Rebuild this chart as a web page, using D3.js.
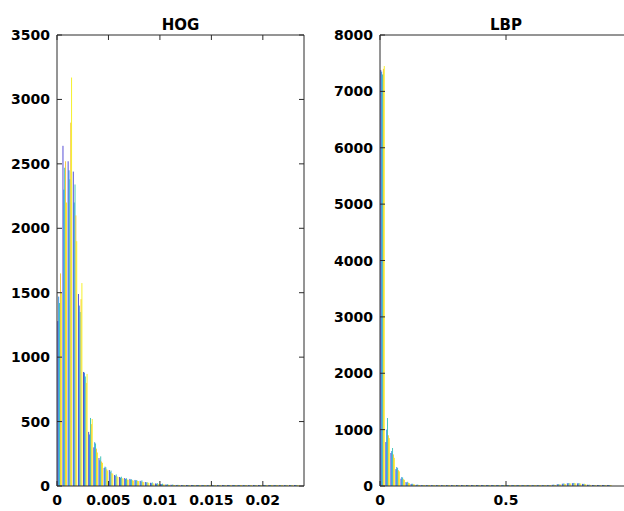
<!DOCTYPE html>
<html><head><meta charset="utf-8">
<script src="https://cdn.jsdelivr.net/npm/d3@7"></script>
<style>body{margin:0;background:#fff}svg{display:block}</style>
</head><body>
<svg id="c" width="624" height="511"></svg>
<script>
// ---------- DATA ----------
const seriesNames = ["s1","s2","s3","s4","s5"];
const seriesColors = ["#4038d0","#1f86e2","#2bbdb2","#f5c22a","#f3ef10"];

// HOG histogram, bin width 0.0005
const hogBinWidth = 0.0005;
const hogS1 = [1280,2640,2520,2440,1490,885,420,300,217,140,124,85,70,62,55,47,40,31,25,20,15,12,10,8,7,6,5,5,4,4,3,3,3,2,2,2,2,2,1,1,1,1,1,1,1,1,1];
const hogS2 = [1470,2300,2450,2200,1400,880,400,340,200,150,110,80,65,55,50,42,35,28,22,18,14,10,8,7,6,5,5,4,4,3,3,3,2,2,2,2,1,1,1,1,1,1,1,1,1,1,1];
const hogS3 = [1420,2470,2380,2340,1350,850,528,330,230,145,120,90,72,60,52,46,44,30,28,22,18,14,12,9,8,7,6,5,5,4,4,3,3,3,2,2,2,2,2,1,1,1,1,1,1,1,1];
const hogS4 = [1650,2520,2820,2100,1450,800,480,290,190,130,100,75,60,50,45,40,33,26,20,16,12,10,8,6,5,5,4,4,3,3,3,2,2,2,2,1,1,1,1,1,1,1,1,1,1,1,1];
const hogS5 = [1500,2200,3170,1900,1575,870,520,260,180,120,95,70,58,48,42,38,30,25,18,15,12,9,7,6,5,4,4,3,3,3,2,2,2,2,1,1,1,1,1,1,1,1,1,1,1,1,1];
const hogXTicks = [0,0.005,0.01,0.015,0.02];
const hogXLabels = ["0","0.005","0.01","0.015","0.02"];
const hogYTicks = [0,500,1000,1500,2000,2500,3000,3500];

// LBP histogram, bin width 0.02
const lbpBinWidth = 0.02;
const lbpS1 = [7380,780,585,300,130,70,35,20,12,8,6,5,5,4,4,4,3,3,3,3,3,3,3,3,3,3,3,3,4,4,5,6,8,12,20,30,40,48,50,46,38,22,10,4,3,2];
const lbpS2 = [7350,1000,620,337,160,60,40,22,12,8,6,5,5,4,4,4,3,3,3,3,3,3,3,3,3,3,3,3,4,4,5,6,9,14,22,32,42,50,52,48,36,20,9,4,3,2];
const lbpS3 = [7300,1206,674,320,150,75,38,25,14,9,6,5,5,4,4,4,3,3,3,3,3,3,3,3,3,3,3,3,4,4,5,7,10,15,24,35,45,52,55,50,40,24,11,5,3,2];
const lbpS4 = [7400,900,560,280,120,55,30,18,10,7,5,5,4,4,4,3,3,3,3,3,3,3,3,3,3,3,3,3,4,4,5,6,8,11,18,28,38,46,48,44,35,20,9,4,3,2];
const lbpS5 = [7450,850,500,260,110,50,28,16,10,7,5,5,4,4,4,3,3,3,3,3,3,3,3,3,3,3,3,3,4,4,5,6,8,10,17,27,36,44,46,42,33,18,8,4,3,2];
const lbpXTicks = [0,0.5];
const lbpXLabels = ["0","0.5"];
const lbpYTicks = [0,1000,2000,3000,4000,5000,6000,7000,8000];

// ---------- DRAW ----------
const svg = d3.select("#c");
const FONT = "'DejaVu Sans', sans-serif";
const AX = "#2a2a2a";

function panel(o){
  const g = svg.append("g");
  const x = d3.scaleLinear().domain(o.xDomain).range([o.left, o.right]);
  const y = d3.scaleLinear().domain(o.yDomain).range([o.bottom, o.top]);
  const series = o.series;
  const n = series.length;
  const groupFrac = 0.85;
  const sub = d3.scaleBand().domain(d3.range(n)).range([0, groupFrac]).padding(0);

  series.forEach((vals, si) => {
    g.append("g").selectAll("rect").data(vals).join("rect")
      .attr("x", (v,i) => {
        const c = (i + 0.5) * o.binWidth;
        return x(c - o.binWidth*groupFrac/2 + sub(si)*o.binWidth);
      })
      .attr("width", x(sub.bandwidth()*o.binWidth) - x(0))
      .attr("y", v => Math.min(y(v), o.bottom - 1))
      .attr("height", v => Math.max(o.bottom - y(v), 1))
      .attr("fill", seriesColors[si]);
  });

  // box
  const tl = 5;
  g.append("line").attr("x1",o.left).attr("x2",o.right).attr("y1",o.top).attr("y2",o.top).attr("stroke",AX);
  g.append("line").attr("x1",o.left).attr("x2",o.right).attr("y1",o.bottom).attr("y2",o.bottom).attr("stroke",AX);
  g.append("line").attr("x1",o.left).attr("x2",o.left).attr("y1",o.top).attr("y2",o.bottom).attr("stroke",AX);
  g.append("line").attr("x1",o.right).attr("x2",o.right).attr("y1",o.top).attr("y2",o.bottom).attr("stroke",AX);

  o.xTicks.forEach((t,i) => {
    const px = x(t);
    g.append("line").attr("x1",px).attr("x2",px).attr("y1",o.bottom).attr("y2",o.bottom-tl).attr("stroke",AX);
    g.append("line").attr("x1",px).attr("x2",px).attr("y1",o.top).attr("y2",o.top+tl).attr("stroke",AX);
    g.append("text").attr("x",px).attr("y",o.bottom+19).attr("text-anchor","middle")
      .attr("font-family",FONT).attr("font-weight","bold").attr("font-size",14).attr("fill","#000")
      .text(o.xLabels[i]);
  });
  o.yTicks.forEach(t => {
    const py = y(t);
    g.append("line").attr("x1",o.left).attr("x2",o.left+tl).attr("y1",py).attr("y2",py).attr("stroke",AX);
    g.append("line").attr("x1",o.right).attr("x2",o.right-tl).attr("y1",py).attr("y2",py).attr("stroke",AX);
    g.append("text").attr("x",o.left-7).attr("y",py+5).attr("text-anchor","end")
      .attr("font-family",FONT).attr("font-weight","bold").attr("font-size",14).attr("fill","#000")
      .text(String(t));
  });
  g.append("text").attr("x",(o.left+o.right)/2).attr("y",o.top-5).attr("text-anchor","middle")
    .attr("font-family",FONT).attr("font-weight","bold").attr("font-size",15).attr("fill","#000")
    .text(o.title);
}

panel({
  title:"HOG", left:57, right:304, top:35, bottom:486,
  xDomain:[0,0.024], yDomain:[0,3500], binWidth:hogBinWidth,
  series:[hogS1,hogS2,hogS3,hogS4,hogS5],
  xTicks:hogXTicks, xLabels:hogXLabels, yTicks:hogYTicks
});
panel({
  title:"LBP", left:380, right:632, top:35, bottom:486,
  xDomain:[0,1], yDomain:[0,8000], binWidth:lbpBinWidth,
  series:[lbpS1,lbpS2,lbpS3,lbpS4,lbpS5],
  xTicks:lbpXTicks, xLabels:lbpXLabels, yTicks:lbpYTicks
});
</script>
</body></html>
